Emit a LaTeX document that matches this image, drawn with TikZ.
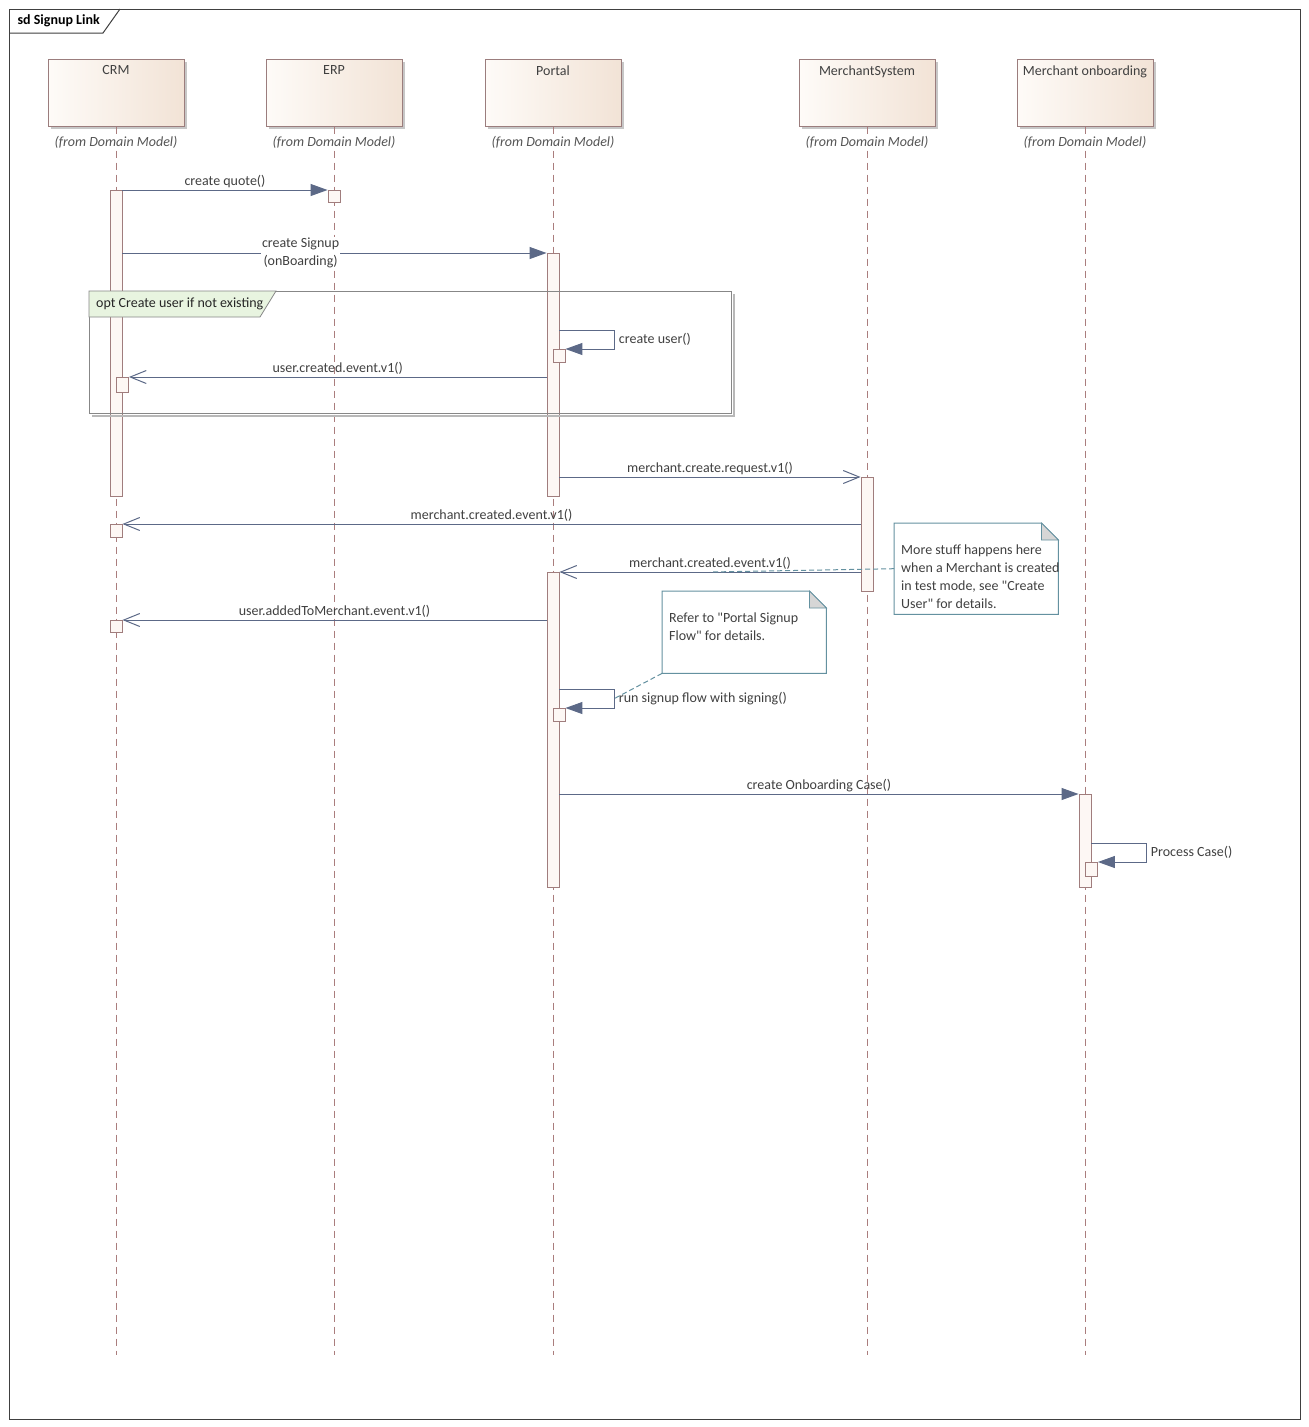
\documentclass[tikz,border=0pt]{standalone}
\usepackage{fontspec}
\setmainfont{Carlito}[Ligatures=TeXOff]
\usepackage{tikz}
\usetikzlibrary{positioning,arrows.meta,shadows}

\definecolor{headline}{RGB}{155,125,125}
\definecolor{headleft}{RGB}{254,251,248}
\definecolor{headright}{RGB}{242,227,214}
\definecolor{lifec}{RGB}{170,125,125}
\definecolor{actfill}{RGB}{253,247,244}
\definecolor{actline}{RGB}{160,125,125}
\definecolor{msgc}{RGB}{92,105,135}
\definecolor{txtc}{RGB}{64,64,64}
\definecolor{fromc}{RGB}{85,85,85}
\definecolor{notec}{RGB}{100,145,160}
\definecolor{foldc}{RGB}{214,214,214}
\definecolor{optfill}{RGB}{232,244,224}
\definecolor{optline}{RGB}{135,135,135}

\begin{document}
\begin{tikzpicture}[x=1pt, y=-1pt, font=\fontsize{14}{18}\selectfont, text=txtc,
  head/.style={draw=headline, line width=1pt, minimum width=136pt, minimum height=67pt, inner sep=0pt,
    left color=headleft, right color=headright,
    drop shadow={shadow xshift=3pt, shadow yshift=-3pt, fill=black!22, opacity=1}},
  life/.style={draw=lifec, line width=0.9pt, dash pattern=on 7pt off 5pt},
  act/.style={draw=actline, fill=actfill, line width=0.9pt, anchor=north, minimum width=12pt, inner sep=0pt},
  call/.style={draw=msgc, line width=1pt, -{Triangle[length=17pt,width=12pt]}},
  reply/.style={draw=msgc, line width=1pt, -{Straight Barb[length=16pt,width=13pt]}},
  lbl/.style={inner sep=2pt},
  notebox/.style={anchor=north west, inner sep=0pt},
  notelink/.style={draw=notec, line width=1pt, dash pattern=on 5pt off 3pt}]

\useasboundingbox (0,0) rectangle (1309,1427);
\fill[white] (0,0) rectangle (1309,1427);

% Frame
\node[draw=black!75, line width=1pt, anchor=north west, minimum width=1291pt, minimum height=1410pt, inner sep=0pt] (sd) at (9,9) {};
\draw[black!75, line width=1pt] (sd.north west) ++(0,24) -- ++(94,0) -- ++(17,-24);
\node[anchor=west, font=\fontsize{14}{18}\selectfont\bfseries, text=black] (title) at (14,21) {sd Signup Link};

% Lifelines
\node[head] (crm) at (116,92.5) {};
\node[head, right=81pt of crm] (erp) {};
\node[head, right=82pt of erp] (portal) {};
\node[head, right=177pt of portal] (msys) {};
\node[head, right=81pt of msys] (monb) {};
\foreach \n/\t in {crm/CRM, erp/ERP, portal/Portal, msys/MerchantSystem, monb/Merchant onboarding}{
  \node[below=6pt of \n.north, inner sep=1pt] (\n-name) {\t};
  \coordinate (\n-end) at (\n.south |- 0,1355);
  \draw[life] (\n.south) -- (\n-end);
  \node[below=9pt of \n.south, fill=white, inner sep=1pt, font=\fontsize{14}{18}\selectfont\itshape, text=fromc] (\n-from) {(from Domain Model)};
}

% Activations
\node[act, minimum height=306pt] (crmA1) at (crm |- 0,190) {};
\node[act, minimum height=12pt] (erpA1) at (erp |- 0,190) {};
\node[act, minimum height=243pt] (portA1) at (portal |- 0,253) {};
\node[act, minimum height=13pt, xshift=6pt] (portN1) at (portal |- 0,349) {};
\node[act, minimum height=15pt, xshift=6.5pt] (crmN1) at (crm |- 0,377) {};
\node[act, minimum height=114pt] (msysA1) at (msys |- 0,477) {};
\node[act, minimum height=13pt] (crmA2) at (crm |- 0,524) {};
\node[act, minimum height=315pt] (portA2) at (portal |- 0,572) {};
\node[act, minimum height=12pt] (crmA3) at (crm |- 0,620) {};
\node[act, minimum height=13pt, xshift=6pt] (portN2) at (portal |- 0,708) {};
\node[act, minimum height=93pt] (monbA1) at (monb |- 0,794) {};
\node[act, minimum height=14pt, xshift=6.5pt] (monbN1) at (monb |- 0,862) {};

% opt fragment
\node[draw=optline, line width=1pt, anchor=north west, minimum width=642pt, minimum height=122pt, inner sep=0pt] (opt) at (89,291) {};
\draw[black!28, line width=2pt] ([shift={(2,3)}]opt.north east) |- ([shift={(3,2)}]opt.south west);
\draw[draw=optline, fill=optfill, line width=0.8pt] (opt.north west) -- ++(187,0) -- ++(-16,26) -- ++(-171,0) -- cycle;
\node[anchor=west, inner sep=0pt, text=black!85] (opt-label) at (96,304) {opt Create user if not existing};

% Messages
\draw[call] (crmA1.north east) -- node[lbl, above] (m1) {create quote()} (erpA1.north west);
\draw[call] (crmA1.east |- portA1.north) -- node[lbl, pos=0.42, fill=white, align=center, inner sep=1pt] (m2) {create Signup\\(onBoarding)} (portA1.north west);
\draw[call] (portA1.east |- 0,330) -- ++(55,0) |- node[lbl, pos=0.25, right, xshift=2pt] (m3) {create user()} (portN1.north east);
\draw[reply] (portA1.west |- crmN1.north) -- node[lbl, above] (m4) {user.created.event.v1()} (crmN1.north east);
\draw[reply] (portA1.east |- msysA1.north) -- node[lbl, above] (m5) {merchant.create.request.v1()} (msysA1.north west);
\draw[reply] (msysA1.west |- crmA2.north) -- node[lbl, above] (m6) {merchant.created.event.v1()} (crmA2.north east);
\draw[reply] (msysA1.west |- portA2.north) -- node[lbl, above] (m7) {merchant.created.event.v1()} coordinate[pos=0.5] (m7-mid) (portA2.north east);
\draw[reply] (portA2.west |- crmA3.north) -- node[lbl, above] (m8) {user.addedToMerchant.event.v1()} (crmA3.north east);
\draw[call] (portA2.east |- 0,689) -- ++(55,0) |- node[lbl, pos=0.25, right, xshift=2pt] (m9) {run signup flow with signing()} coordinate[pos=0.25] (m9-mid) (portN2.north east);
\draw[call] (portA2.east |- monbA1.north) -- node[lbl, above] (m10) {create Onboarding Case()} (monbA1.north west);
\draw[call] (monbA1.east |- 0,843) -- ++(55,0) |- node[lbl, pos=0.25, right, xshift=2pt] (m11) {Process Case()} (monbN1.north east);

% Notes
\node[notebox, minimum width=164pt, minimum height=91pt] (note1) at (894,523) {};
\draw[notec, line width=1pt, fill=white] (note1.north west) -- ([xshift=-17pt]note1.north east) -- ([yshift=-17pt]note1.north east) -- (note1.south east) -- (note1.south west) -- cycle;
\draw[notec, line width=0.8pt, fill=foldc] ([xshift=-17pt]note1.north east) -- ([yshift=-17pt]note1.north east) -- ([xshift=-17pt, yshift=-17pt]note1.north east) -- cycle;
\node[anchor=north west, align=left, inner sep=0pt, font=\fontsize{14}{17.7}\selectfont] (note1-text) at (901,545) {More stuff happens here\\when a Merchant is created\\in test mode, see "Create\\User" for details.};
\draw[notelink] (note1.west) -- (m7-mid);

\node[notebox, minimum width=164pt, minimum height=82pt] (note2) at (662,591) {};
\draw[notec, line width=1pt, fill=white] (note2.north west) -- ([xshift=-17pt]note2.north east) -- ([yshift=-17pt]note2.north east) -- (note2.south east) -- (note2.south west) -- cycle;
\draw[notec, line width=0.8pt, fill=foldc] ([xshift=-17pt]note2.north east) -- ([yshift=-17pt]note2.north east) -- ([xshift=-17pt, yshift=-17pt]note2.north east) -- cycle;
\node[anchor=north west, align=left, inner sep=0pt, font=\fontsize{14}{17.7}\selectfont] (note2-text) at (669,613) {Refer to "Portal Signup\\Flow" for details.};
\draw[notelink] (note2.south west) -- (m9-mid);
\end{tikzpicture}
\end{document}
